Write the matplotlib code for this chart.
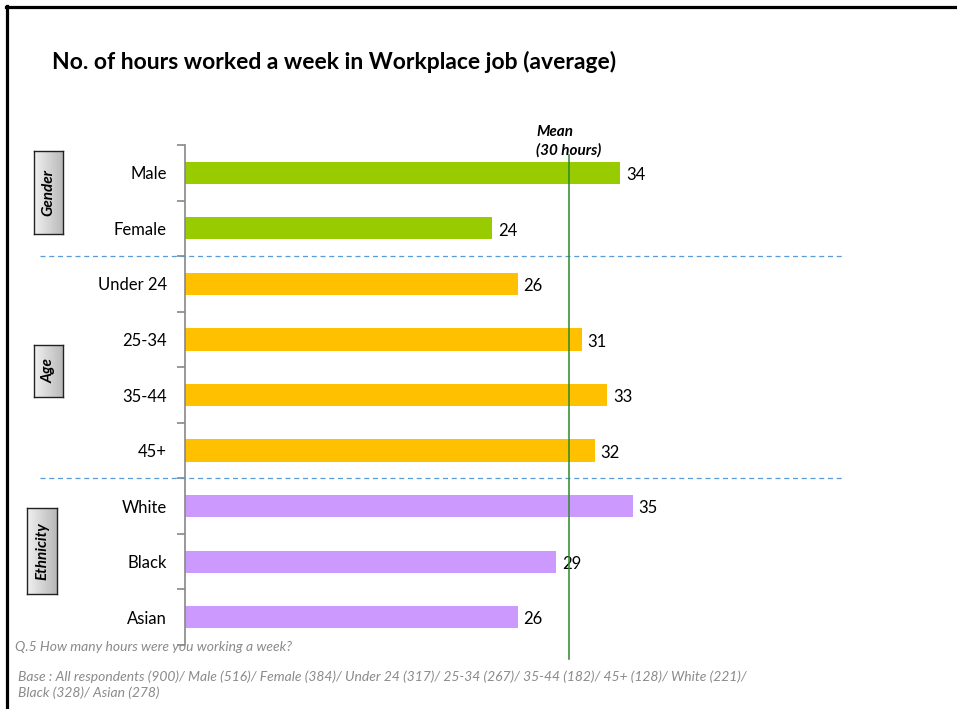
import numpy as np
import matplotlib
matplotlib.use("Agg")
import matplotlib.pyplot as plt
from matplotlib.lines import Line2D
from matplotlib.transforms import blended_transform_factory

plt.rcParams['font.family'] = ['Lato', 'DejaVu Sans']

categories = ['Male', 'Female', 'Under 24', '25-34', '35-44', '45+', 'White', 'Black', 'Asian']
hours = [34, 24, 26, 31, 33, 32, 35, 29, 26]
groups = ['Gender', 'Gender', 'Age', 'Age', 'Age', 'Age', 'Ethnicity', 'Ethnicity', 'Ethnicity']
mean_hours = 30

group_colors = {'Gender': '#99CC00', 'Age': '#FFC000', 'Ethnicity': '#CC99FF'}

W, H = 957, 709
fig = plt.figure(figsize=(W / 100, H / 100), dpi=100)

def fx(px):
    return px / W

def fy(py):
    return 1 - py / H

# slide frame: left and top rules only
fig.add_artist(Line2D([fx(7), fx(7)], [fy(6), 0], color='black', lw=2.3))
fig.add_artist(Line2D([fx(6), 1], [fy(7), fy(7)], color='black', lw=2.3))

fig.text(fx(52), fy(62), 'No. of hours worked a week in Workplace job (average)',
         fontsize=16.5, fontweight='bold', ha='left', va='center')

ax = fig.add_axes([fx(185), fy(645), fx(640), 500 / H])
y = np.arange(len(categories))
colors = [group_colors[g] for g in groups]
ax.barh(y, hours, height=0.4, color=colors, zorder=2)
ax.set_xlim(0, 50)
ax.set_ylim(len(categories) - 0.5, -0.5)

for sp in ['top', 'right', 'bottom']:
    ax.spines[sp].set_visible(False)
ax.spines['left'].set_color('#888888')
ax.spines['left'].set_linewidth(1.2)
ax.set_xticks([])

# boundary ticks on the axis, labels at category centres
ax.set_yticks(np.arange(-0.5, len(categories), 1.0))
ax.set_yticklabels([])
ax.tick_params(axis='y', which='major', length=6, color='#888888', width=1.2)
ax.set_yticks(y, minor=True)
ax.set_yticklabels(categories, minor=True, fontsize=12)
ax.tick_params(axis='y', which='minor', length=0, pad=13)

for yi, v in zip(y, hours):
    ax.text(v + 0.45, yi + 0.04, str(v), va='center', ha='left', fontsize=12)

# mean line
ax.plot([mean_hours, mean_hours], [-0.32, 8.76], color='#2a8a2a', lw=1.1,
        clip_on=False, zorder=3)
ax.text(mean_hours, -0.27, 'Mean\n(30 hours)', ha='center', va='bottom',
        fontsize=11, fontweight='bold', style='italic', linespacing=1.4,
        multialignment='left')

# dashed separators between groups
tr = blended_transform_factory(fig.transFigure, ax.transData)
for sep in [1.5, 5.5]:
    ax.plot([fx(40), fx(845)], [sep, sep], transform=tr, color='#5b9bd5',
            lw=0.9, ls=(0, (4, 3)), clip_on=False)

# group label boxes with grey gradient
grad = np.linspace(0.94, 0.72, 64).reshape(1, -1)
boxes = [('Gender', 34, 151, 29, 83), ('Age', 34, 345, 29, 52),
         ('Ethnicity', 27, 508, 30, 86)]
for name, bx, by, bw, bh in boxes:
    bax = fig.add_axes([fx(bx), fy(by + bh), fx(bw), bh / H])
    bax.imshow(grad, cmap='gray', vmin=0, vmax=1, aspect='auto',
               extent=[0, 1, 0, 1])
    bax.set_xticks([])
    bax.set_yticks([])
    for sp in bax.spines.values():
        sp.set_color('#222222')
        sp.set_linewidth(1.0)
    bax.text(0.5, 0.5, name, rotation=90, ha='center', va='center',
             fontsize=11, fontweight='bold', style='italic',
             transform=bax.transAxes)

note_color = '#8a8a8a'
fig.text(fx(15), fy(647), 'Q.5 How many hours were you working a week?',
         fontsize=10, style='italic', color=note_color, va='center')
fig.text(fx(18), fy(677),
         'Base : All respondents (900)/ Male (516)/ Female (384)/ Under 24 (317)/ '
         '25-34 (267)/ 35-44 (182)/ 45+ (128)/ White (221)/',
         fontsize=10, style='italic', color=note_color, va='center')
fig.text(fx(18), fy(693), 'Black (328)/ Asian (278)',
         fontsize=10, style='italic', color=note_color, va='center')

fig.savefig('out.png', dpi=100)
